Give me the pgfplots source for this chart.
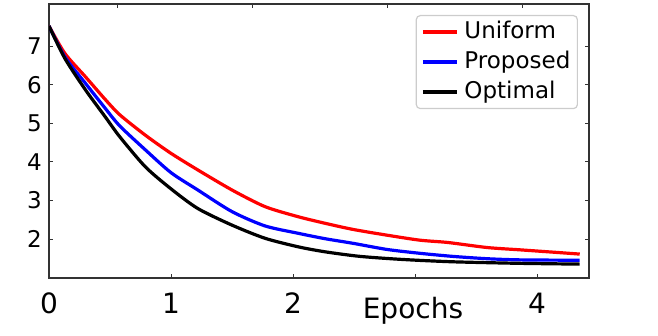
\documentclass[border=0pt]{standalone}
\usepackage{fontspec}
\setmainfont{DejaVu Sans}
\usepackage{pgfplots}
\pgfplotsset{compat=1.18}

\definecolor{axisgray}{HTML}{333333}
\definecolor{legendgray}{HTML}{CCCCCC}

\begin{document}
\begin{tikzpicture}
\useasboundingbox (-49pt,-57pt) rectangle (609pt,278pt);
\begin{axis}[
    scale only axis,
    width=540pt, height=274pt,
    xmin=0, xmax=4.426,
    ymin=0.99, ymax=8.09,
    xtick={0,1,2,3,4},
    xticklabels={0,1,2,,4},
    ytick={2,3,4,5,6,7},
    xtick pos=bottom,
    ytick pos=both,
    tick align=inside,
    major tick length=4pt,
    tick style={axisgray, line width=0.8pt},
    axis line style={axisgray, line width=1.2pt},
    /pgf/number format/assume math mode=true,
    xticklabel style={font=\fontsize{28}{32}\selectfont, inner sep=0pt, yshift=-15pt},
    yticklabel style={font=\fontsize{23}{27}\selectfont, inner sep=0pt, xshift=-7pt},
    xlabel={Epochs},
    xlabel style={at={(0.674,0)}, anchor=north, inner sep=0pt, yshift=-19pt,
        font=\fontsize{28}{32}\selectfont},
    legend style={
        at={(0.9796,0.9599)}, anchor=north east,
        draw=legendgray, line width=1.2pt, rounded corners=4pt,
        fill=white,
        font=\fontsize{23}{27}\selectfont,
        inner xsep=5pt, inner ysep=1.5pt,
        nodes={text height=17pt, text depth=5pt, inner ysep=4pt, inner xsep=2pt},
        /tikz/every odd column/.append style={column sep=4pt},
    },
    legend cell align=left,
    legend image code/.code={\draw[#1] (0pt,0pt) -- (34pt,0pt);},
    every axis plot/.append style={line width=3.2pt, line join=round, smooth, tension=0.45},
]
\addplot[red] coordinates {
(0,7.52) (0.13,6.81) (0.30,6.20) (0.46,5.62) (0.58,5.22) (0.79,4.69)
(1.00,4.22) (1.22,3.79) (1.50,3.27) (1.77,2.84) (2.04,2.58)
(2.26,2.41) (2.49,2.25) (2.77,2.10) (3.04,1.97) (3.27,1.91) (3.59,1.78)
(3.86,1.72) (4.13,1.66) (4.35,1.61)
};
\addlegendentry{Uniform}
\addplot[blue] coordinates {
(0,7.52) (0.13,6.72) (0.30,6.03) (0.46,5.39) (0.58,4.93) (0.79,4.31)
(1.00,3.72) (1.22,3.27) (1.50,2.71) (1.77,2.34) (2.04,2.15)
(2.26,2.01) (2.49,1.89) (2.77,1.73) (3.04,1.63) (3.31,1.55) (3.59,1.49)
(3.86,1.46) (4.35,1.45)
};
\addlegendentry{Proposed}
\addplot[black] coordinates {
(0,7.52) (0.13,6.68) (0.30,5.86) (0.46,5.17) (0.58,4.65) (0.79,3.87)
(1.00,3.30) (1.22,2.79) (1.50,2.36) (1.77,2.02) (2.04,1.80)
(2.26,1.67) (2.55,1.55) (2.90,1.47) (3.31,1.41) (3.86,1.37) (4.35,1.35)
};
\addlegendentry{Optimal}
\end{axis}
\begin{axis}[
    scale only axis,
    width=540pt, height=274pt,
    xmin=0, xmax=4.426,
    ymin=0.99, ymax=8.09,
    axis x line*=top,
    hide y axis,
    xtick={0.557,1.664,2.770,3.877},
    xticklabels={},
    tick align=inside,
    major tick length=4pt,
    tick style={axisgray, line width=0.8pt},
    axis line style={draw=none},
]
\end{axis}
\end{tikzpicture}
\end{document}
